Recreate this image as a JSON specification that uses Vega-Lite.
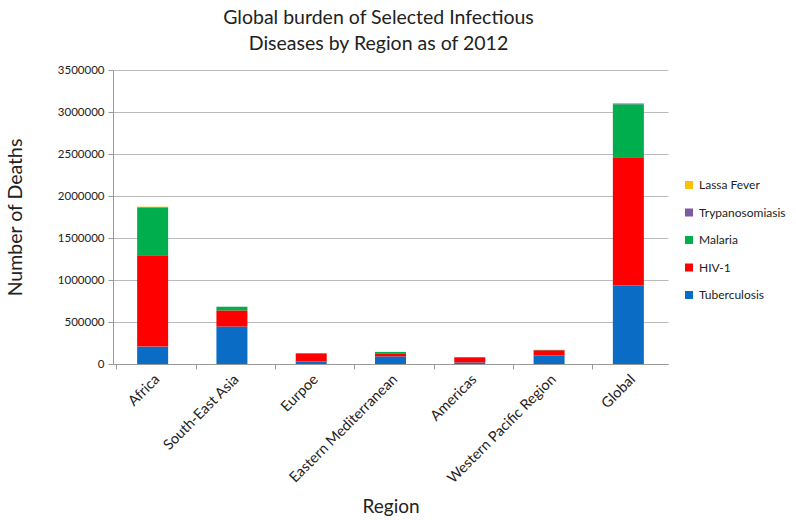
{
  "$schema": "https://vega.github.io/schema/vega-lite/v6.json",
  "autosize": {"type": "none"},
  "padding": {"left": 113, "top": 70, "right": 128, "bottom": 156},
  "width": 555,
  "height": 294,
  "background": "white",
  "title": {
    "text": ["Global burden of Selected Infectious", "Diseases by Region as of 2012"],
    "font": "Lato",
    "fontSize": 19.5,
    "fontWeight": "normal",
    "color": "#222222",
    "lineHeight": 26,
    "anchor": "middle",
    "dx": -12,
    "offset": 10
  },
  "datasets": {
    "diseases": [
      {"Disease": "Tuberculosis", "StackRank": 1},
      {"Disease": "HIV-1", "StackRank": 2},
      {"Disease": "Malaria", "StackRank": 3},
      {"Disease": "Trypanosomiasis", "StackRank": 4},
      {"Disease": "Lassa Fever", "StackRank": 5}
    ]
  },
  "data": {
    "values": [
      {"Region": "Africa", "Disease": "Tuberculosis", "Deaths": 207000},
      {"Region": "Africa", "Disease": "HIV-1", "Deaths": 1088000},
      {"Region": "Africa", "Disease": "Malaria", "Deaths": 566000},
      {"Region": "Africa", "Disease": "Trypanosomiasis", "Deaths": 7000},
      {"Region": "Africa", "Disease": "Lassa Fever", "Deaths": 5000},
      {"Region": "South-East Asia", "Disease": "Tuberculosis", "Deaths": 446000},
      {"Region": "South-East Asia", "Disease": "HIV-1", "Deaths": 192000},
      {"Region": "South-East Asia", "Disease": "Malaria", "Deaths": 44000},
      {"Region": "Eurpoe", "Disease": "Tuberculosis", "Deaths": 31000},
      {"Region": "Eurpoe", "Disease": "HIV-1", "Deaths": 96000},
      {"Region": "Eastern Mediterranean", "Disease": "Tuberculosis", "Deaths": 91000},
      {"Region": "Eastern Mediterranean", "Disease": "HIV-1", "Deaths": 36000},
      {"Region": "Eastern Mediterranean", "Disease": "Malaria", "Deaths": 17000},
      {"Region": "Americas", "Disease": "Tuberculosis", "Deaths": 19000},
      {"Region": "Americas", "Disease": "HIV-1", "Deaths": 61000},
      {"Region": "Americas", "Disease": "Malaria", "Deaths": 1000},
      {"Region": "Western Pacific Region", "Disease": "Tuberculosis", "Deaths": 100000},
      {"Region": "Western Pacific Region", "Disease": "HIV-1", "Deaths": 64000},
      {"Region": "Western Pacific Region", "Disease": "Malaria", "Deaths": 4000},
      {"Region": "Global", "Disease": "Tuberculosis", "Deaths": 935000},
      {"Region": "Global", "Disease": "HIV-1", "Deaths": 1526000},
      {"Region": "Global", "Disease": "Malaria", "Deaths": 632000},
      {"Region": "Global", "Disease": "Trypanosomiasis", "Deaths": 7000},
      {"Region": "Global", "Disease": "Lassa Fever", "Deaths": 5000}
    ]
  },
  "transform": [
    {"lookup": "Disease", "from": {"data": {"name": "diseases"}, "key": "Disease", "fields": ["StackRank"]}}
  ],
  "mark": {"type": "bar", "width": 31},
  "encoding": {
    "x": {
      "field": "Region",
      "type": "nominal",
      "sort": ["Africa", "South-East Asia", "Eurpoe", "Eastern Mediterranean", "Americas", "Western Pacific Region", "Global"],
      "title": "Region",
      "axis": {
        "labelAngle": -45,
        "labelFont": "Lato",
        "labelFontSize": 14.5,
        "labelColor": "#222222",
        "labelPadding": 3,
        "titleFont": "Lato",
        "titleFontSize": 19,
        "titleFontWeight": "normal",
        "titleColor": "#222222",
        "titlePadding": 12,
        "domainColor": "#999999",
        "tickColor": "#999999",
        "tickSize": 5,
        "bandPosition": 0,
        "grid": false
      }
    },
    "y": {
      "field": "Deaths",
      "type": "quantitative",
      "aggregate": "sum",
      "title": "Number of Deaths",
      "scale": {"domain": [0, 3500000]},
      "axis": {
        "values": [0, 500000, 1000000, 1500000, 2000000, 2500000, 3000000, 3500000],
        "format": "d",
        "labelFont": "Lato",
        "labelFontSize": 11.5,
        "labelColor": "#222222",
        "labelPadding": 4,
        "titleFont": "Lato",
        "titleFontSize": 19.5,
        "titleFontWeight": "normal",
        "titleColor": "#222222",
        "titlePadding": 32,
        "domainColor": "#999999",
        "tickColor": "#999999",
        "tickSize": 5,
        "gridColor": "#bbbbbb",
        "gridWidth": 1.2
      }
    },
    "color": {
      "field": "Disease",
      "type": "nominal",
      "scale": {
        "domain": ["Tuberculosis", "HIV-1", "Malaria", "Trypanosomiasis", "Lassa Fever"],
        "range": ["#0a6cc4", "#ff0000", "#00ae4d", "#7b5aa6", "#ffc000"]
      },
      "legend": {
        "title": null,
        "values": ["Lassa Fever", "Trypanosomiasis", "Malaria", "HIV-1", "Tuberculosis"],
        "orient": "none",
        "legendX": 570,
        "legendY": 109,
        "symbolType": "square",
        "symbolSize": 64,
        "symbolStrokeWidth": 0,
        "labelFont": "Lato",
        "labelFontSize": 12,
        "labelColor": "#222222",
        "rowPadding": 15.5
      }
    },
    "order": {"field": "StackRank", "type": "quantitative", "sort": "ascending"}
  },
  "config": {
    "view": {"stroke": null}
  }
}
